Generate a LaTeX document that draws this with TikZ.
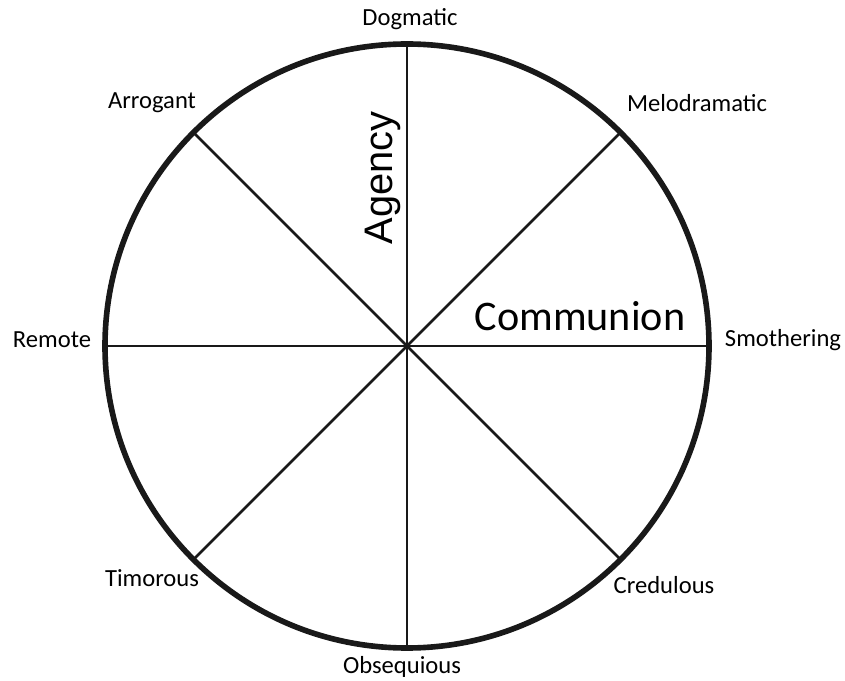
\documentclass[tikz,border=0pt]{standalone}
\usepackage{fontspec}
\setmainfont{Carlito}
\newfontfamily\axisfont{Liberation Sans}
\usetikzlibrary{positioning, calc}

\begin{document}
\begin{tikzpicture}[
        x=0.3mm, y=-0.3mm,
        trait/.style={
            font=\fontsize{21}{24}\selectfont,
            text=black,
            inner sep=0pt
        },
        spoke/.style={
            draw=black!90,
            line width=2.4pt
        },
        rim/.style={
            draw=black!90,
            line width=4.8pt
        }
    ]
        \useasboundingbox (0,0) rectangle (845,681);

        % wheel
        \coordinate (hub) at (407,346);
        \draw [rim] (hub) circle [radius=302];
        \foreach \ang/\nm in {0/e, 45/ne, 90/n, 135/nw, 180/w, 225/sw, 270/s, 315/se} {
            \coordinate (\nm) at ($(hub)+(\ang:302)$);
        }
        \foreach \nm in {e, ne, n, nw, w, sw, s, se}
            \draw [spoke] (hub) -- (\nm);

        % axis names
        \node (agency) [font=\axisfont\fontsize{34}{38}\selectfont, rotate=90, inner sep=0pt] at (383,178) {Agency};
        \node (communion) [font=\fontsize{36}{40}\selectfont, inner sep=0pt] at (580,316) {Communion};

        % traits
        \node (dogmatic) [trait] at (410,19) {Dogmatic};
        \node (melodramatic) [trait] at (697,103) {Melodramatic};
        \node (smothering) [trait] at (783,340) {Smothering};
        \node (credulous) [trait] at (664,585) {Credulous};
        \node (obsequious) [trait] at (402,667) {Obsequious};
        \node (timorous) [trait] at (152,578) {Timorous};
        \node (remote) [trait] at (52,340) {Remote};
        \node (arrogant) [trait] at (152,103) {Arrogant};
\end{tikzpicture}
\end{document}
